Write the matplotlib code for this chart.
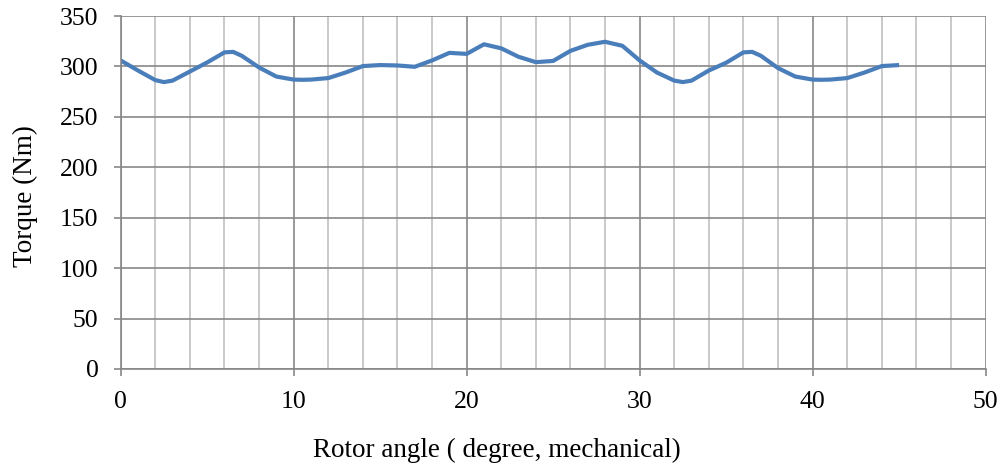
import matplotlib
matplotlib.use("Agg")
from matplotlib import pyplot as plt
from matplotlib.ticker import MultipleLocator

# rotor angle (deg, mechanical) and torque
angle = [0, 1, 2, 2.5, 3, 4, 5, 6, 6.5, 7, 8, 9,
         10, 10.5, 11, 12, 13, 14, 15, 16, 17, 18, 19,
         20, 21, 22, 23, 24, 25, 26, 27, 28, 29,
         30, 31, 32, 32.5, 33, 34, 35, 36, 36.5, 37, 38, 39,
         40, 40.5, 41, 42, 43, 44, 45]
torque = [306, 296, 286.5, 284.5, 286, 295, 304, 314, 314.5, 310.6, 299, 290,
          287, 286.8, 287, 288.5, 294, 300.4, 301.4, 301, 299.7, 306, 313.5,
          312.5, 322, 318, 309.6, 304.3, 305.5, 315.5, 321.5, 324.5, 320.5,
          306, 294, 286, 284.5, 286, 296, 303.7, 314, 314.5, 310.7, 298.4, 290,
          287, 286.8, 287, 288.5, 294, 300.4, 301.4]

plt.rcParams["font.family"] = ["Liberation Serif", "DejaVu Serif"]

fig = plt.figure(figsize=(10.04, 4.67), dpi=100)
ax = fig.add_axes([0.1202, 0.2099, 0.8615, 0.7557])

ax.plot(angle, torque, color="#4a7ebb", lw=3.0,
        solid_joinstyle="round", solid_capstyle="butt")

ax.set_xlim(0, 50)
ax.set_ylim(0, 350)
ax.xaxis.set_major_locator(MultipleLocator(10))
ax.xaxis.set_minor_locator(MultipleLocator(2))
ax.yaxis.set_major_locator(MultipleLocator(50))

ax.grid(which="minor", axis="x", color="#c0c0c0", lw=1.2)
ax.grid(which="major", axis="both", color="#878787", lw=1.2)
ax.set_axisbelow(True)

for side in ("top", "right"):
    ax.spines[side].set_visible(False)
for side in ("left", "bottom"):
    ax.spines[side].set_color("#878787")
    ax.spines[side].set_linewidth(1.2)

ax.tick_params(which="major", length=5, width=1.2, color="#878787",
               labelsize=18.5)
ax.tick_params(axis="y", pad=11)
ax.tick_params(axis="x", pad=11)
ax.tick_params(which="minor", length=0)

ax.set_xlabel("Rotor angle ( degree, mechanical)", fontsize=19.5)
ax.xaxis.set_label_coords(0.435, -0.249)
ax.xaxis.label.set_va("baseline")

ax.set_ylabel("Torque (Nm)", fontsize=19.5)
ax.yaxis.set_label_coords(-0.1025, 0.49)
ax.yaxis.label.set_va("baseline")

fig.savefig("out.png", dpi=100)
